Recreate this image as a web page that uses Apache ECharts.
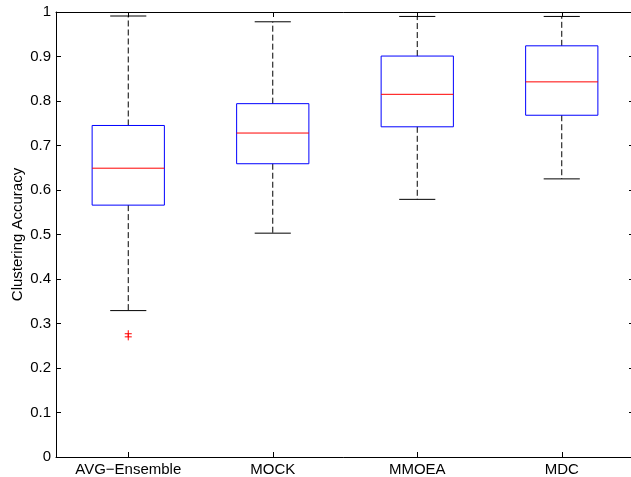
<!DOCTYPE html>
<html>
<head>
<meta charset="utf-8">
<script src="https://cdn.jsdelivr.net/npm/echarts@6/dist/echarts.min.js"></script>
<style>
  html, body { margin: 0; padding: 0; background: #fff; }
  #chart { width: 631px; height: 477px; }
</style>
</head>
<body>
<div id="chart"></div>
<script>
// box plot stats
const categories = ['AVG\u2212Ensemble', 'MOCK', 'MMOEA', 'MDC']
const lowerWhisker = [0.329, 0.503, 0.579, 0.625]
const q1 = [0.566, 0.659, 0.742, 0.768]
const median = [0.649, 0.728, 0.815, 0.843]
const q3 = [0.745, 0.794, 0.901, 0.924]
const upperWhisker = [0.991, 0.978, 0.990, 0.990]
// outliers as [category index, value]
const outliers = [[0, 0.277], [0, 0.270]]

const boxData = categories.map((_, i) => [
  i, lowerWhisker[i], q1[i], median[i], q3[i], upperWhisker[i]
])

const FONT = 'Liberation Sans, Arial, Helvetica, sans-serif'

function renderBox(params, api) {
  const i = api.value(0)
  const band = api.size([1, 0])[0]
  const x = api.coord([i, 0])[0]
  const halfBox = band * 0.25
  const halfCap = band * 0.125
  const yLo = api.coord([i, api.value(1)])[1]
  const yQ1 = api.coord([i, api.value(2)])[1]
  const yMed = api.coord([i, api.value(3)])[1]
  const yQ3 = api.coord([i, api.value(4)])[1]
  const yHi = api.coord([i, api.value(5)])[1]
  const black = { stroke: '#000', lineWidth: 1, fill: null }
  const dashed = { stroke: '#000', lineWidth: 1, lineDash: [6, 3], fill: null }
  return {
    type: 'group',
    children: [
      { type: 'line', shape: { x1: x, y1: yQ3, x2: x, y2: yHi }, style: dashed },
      { type: 'line', shape: { x1: x, y1: yQ1, x2: x, y2: yLo }, style: dashed },
      { type: 'line', shape: { x1: x - halfCap, y1: yHi, x2: x + halfCap, y2: yHi }, style: black },
      { type: 'line', shape: { x1: x - halfCap, y1: yLo, x2: x + halfCap, y2: yLo }, style: black },
      {
        type: 'rect',
        shape: { x: x - halfBox, y: yQ3, width: halfBox * 2, height: yQ1 - yQ3 },
        style: { stroke: '#0000ff', lineWidth: 1, fill: null }
      },
      {
        type: 'line',
        shape: { x1: x - halfBox, y1: yMed, x2: x + halfBox, y2: yMed },
        style: { stroke: '#ff0000', lineWidth: 1 }
      }
    ]
  }
}

function renderOutlier(params, api) {
  const p = api.coord([api.value(0), api.value(1)])
  const r = 3.5
  const st = { stroke: '#ff0000', lineWidth: 1 }
  return {
    type: 'group',
    children: [
      { type: 'line', shape: { x1: p[0] - r, y1: p[1], x2: p[0] + r, y2: p[1] }, style: st },
      { type: 'line', shape: { x1: p[0], y1: p[1] - r, x2: p[0], y2: p[1] + r }, style: st }
    ]
  }
}

const axisLine = { show: true, onZero: false, lineStyle: { color: '#000', width: 1 } }
const tickIn = { show: true, inside: true, length: 5, lineStyle: { color: '#000' } }

const chart = echarts.init(document.getElementById('chart'))
chart.setOption({
  backgroundColor: '#fff',
  animation: false,
  grid: { left: 56, top: 12, width: 578, height: 445, containLabel: false, outerBoundsMode: 'none' },
  xAxis: [
    {
      type: 'category',
      data: categories,
      position: 'bottom',
      axisLine,
      axisTick: { ...tickIn, alignWithLabel: true },
      axisLabel: { color: '#000', fontSize: 15, fontFamily: FONT, margin: 5 },
      splitLine: { show: false }
    },
    {
      type: 'category',
      data: categories,
      position: 'top',
      axisLine,
      axisTick: { ...tickIn, alignWithLabel: true },
      axisLabel: { show: false },
      splitLine: { show: false }
    }
  ],
  yAxis: [
    {
      type: 'value',
      min: 0,
      max: 1,
      interval: 0.1,
      position: 'left',
      name: 'Clustering Accuracy',
      nameLocation: 'middle',
      nameGap: 31,
      nameMoveOverlap: false,
      nameTextStyle: { color: '#000', fontSize: 15, fontFamily: FONT },
      axisLine,
      axisTick: tickIn,
      axisLabel: { color: '#000', fontSize: 15, fontFamily: FONT, margin: 5 },
      splitLine: { show: false }
    },
    {
      type: 'value',
      min: 0,
      max: 1,
      interval: 0.1,
      position: 'right',
      axisLine,
      axisTick: tickIn,
      axisLabel: { show: false },
      splitLine: { show: false }
    }
  ],
  series: [
    {
      type: 'custom',
      renderItem: renderBox,
      encode: { x: 0, y: [1, 2, 3, 4, 5] },
      data: boxData,
      clip: false
    },
    {
      type: 'custom',
      renderItem: renderOutlier,
      encode: { x: 0, y: 1 },
      data: outliers
    }
  ]
})
</script>
</body>
</html>
